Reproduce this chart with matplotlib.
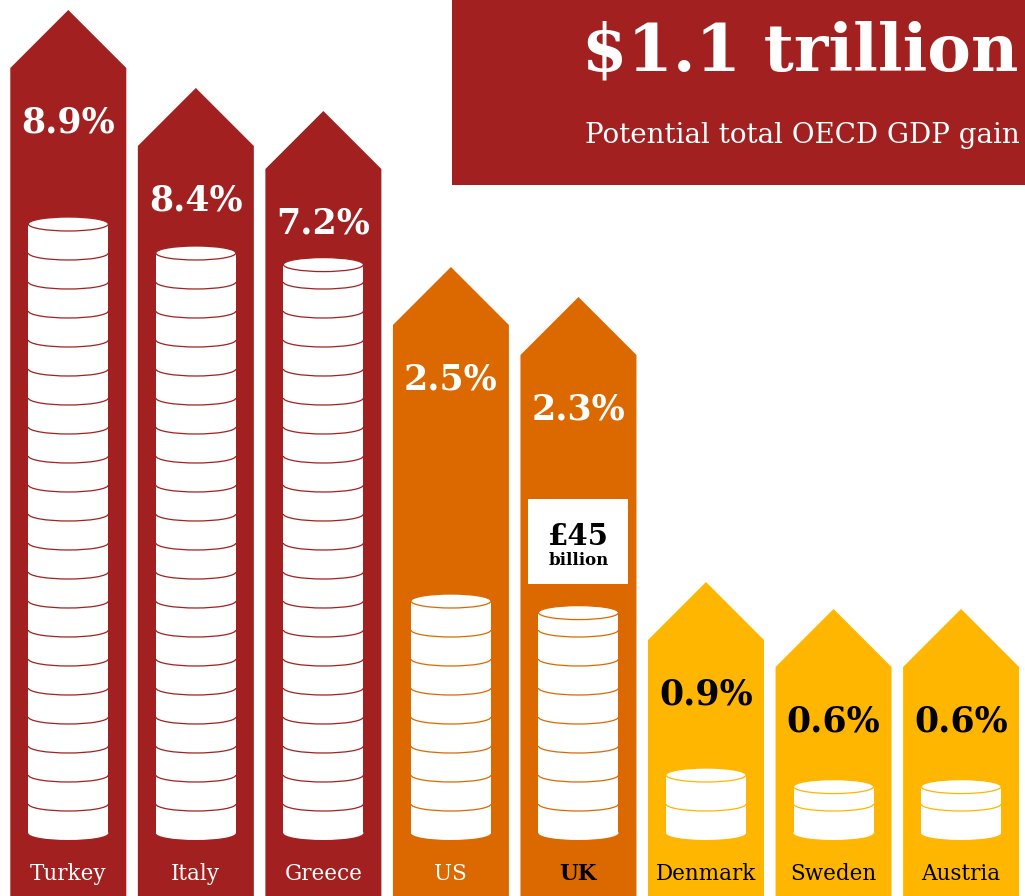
import numpy as np
import matplotlib.pyplot as plt
from matplotlib.patches import Polygon, Rectangle, Ellipse, Arc

plt.rcParams['font.family'] = ['DejaVu Serif']

# data
countries = ['Turkey', 'Italy', 'Greece', 'US', 'UK', 'Denmark', 'Sweden', 'Austria']
gdp_gain = ['8.9%', '8.4%', '7.2%', '2.5%', '2.3%', '0.9%', '0.6%', '0.6%']
arrow_top = [886, 808, 785, 629, 599, 314, 287, 287]   # tip height, px from bottom
coins = [21, 20, 19.6, 8, 7.6, 2, 1.6, 1.6]            # coins in each stack
tier = [0, 0, 0, 1, 1, 2, 2, 2]
total_gain = '$1.1 trillion'
total_label = 'Potential total OECD GDP gain'
uk_gain = '£45'

tier_col = ['#A32020', '#DC6900', '#FFB600']
tier_txt = ['white', 'white', 'black']

W, H = 1025, 896
px = 127.54               # px per category unit
x0 = -68.3 / px
arrow_w = 116 / px
half = arrow_w / 2
rise = 58
coin_w = 80 / px
coin_h = 29
ry = 7
base = 63

fig = plt.figure(figsize=(W / 100, H / 100), dpi=100)
ax = fig.add_axes([0, 0, 1, 1])
ax.set_xlim(x0, x0 + W / px)
ax.set_ylim(0, H)
ax.axis('off')

for i, name in enumerate(countries):
    col = tier_col[tier[i]]
    top = arrow_top[i]
    sh = top - rise
    ax.add_patch(Polygon([(i - half, 0), (i - half, sh), (i, top), (i + half, sh), (i + half, 0)],
                         closed=True, fc=col, ec='none', zorder=1))

    # coin stack
    n = coins[i]
    ytop = base + n * coin_h
    ax.add_patch(Ellipse((i, base), coin_w, 2 * ry, fc='white', ec='none', zorder=2))
    ax.add_patch(Rectangle((i - coin_w / 2, base), coin_w, ytop - base, fc='white', ec='none', zorder=2))
    for k in range(1, int(np.floor(n)) + 1):
        yk = base + k * coin_h
        if abs(yk - ytop) < 1:
            continue
        ax.add_patch(Arc((i, yk), coin_w, 2 * ry, theta1=180, theta2=360, ec=col, lw=0.9, zorder=3))
    ax.add_patch(Ellipse((i, ytop), coin_w, 2 * ry, fc='white', ec=col, lw=0.9, zorder=3))

    ax.text(i, top - 122, gdp_gain[i], ha='center', va='baseline', fontsize=25,
            fontweight='bold', color=tier_txt[tier[i]], zorder=4)
    bold = name == 'UK'
    ax.text(i, 16, name, ha='center', va='baseline', fontsize=15.5,
            fontweight='bold' if bold else 'normal',
            color='black' if bold else tier_txt[tier[i]], zorder=4)

# UK callout
uk = countries.index('UK')
bw = 100 / px
ax.add_patch(Rectangle((uk - bw / 2, 312), bw, 85, fc='white', ec='none', zorder=4))
ax.text(uk, 351, uk_gain, ha='center', va='baseline', fontsize=21, fontweight='bold', zorder=5)
ax.text(uk, 331, 'billion', ha='center', va='baseline', fontsize=12, fontweight='bold', zorder=5)

# headline box
ax.add_patch(Rectangle((452 / W, 1 - 185 / H), 1 - 452 / W, 185 / H, transform=ax.transAxes,
                       fc=tier_col[0], ec='none', zorder=4))
ax.text(1018 / W, 1 - 70 / H, total_gain, transform=ax.transAxes, ha='right', va='baseline',
        fontsize=47, fontweight='bold', color='white', zorder=5)
ax.text(1020 / W, 1 - 143 / H, total_label, transform=ax.transAxes, ha='right', va='baseline',
        fontsize=20, color='white', zorder=5)

fig.savefig('out.png', dpi=100, facecolor='white')
